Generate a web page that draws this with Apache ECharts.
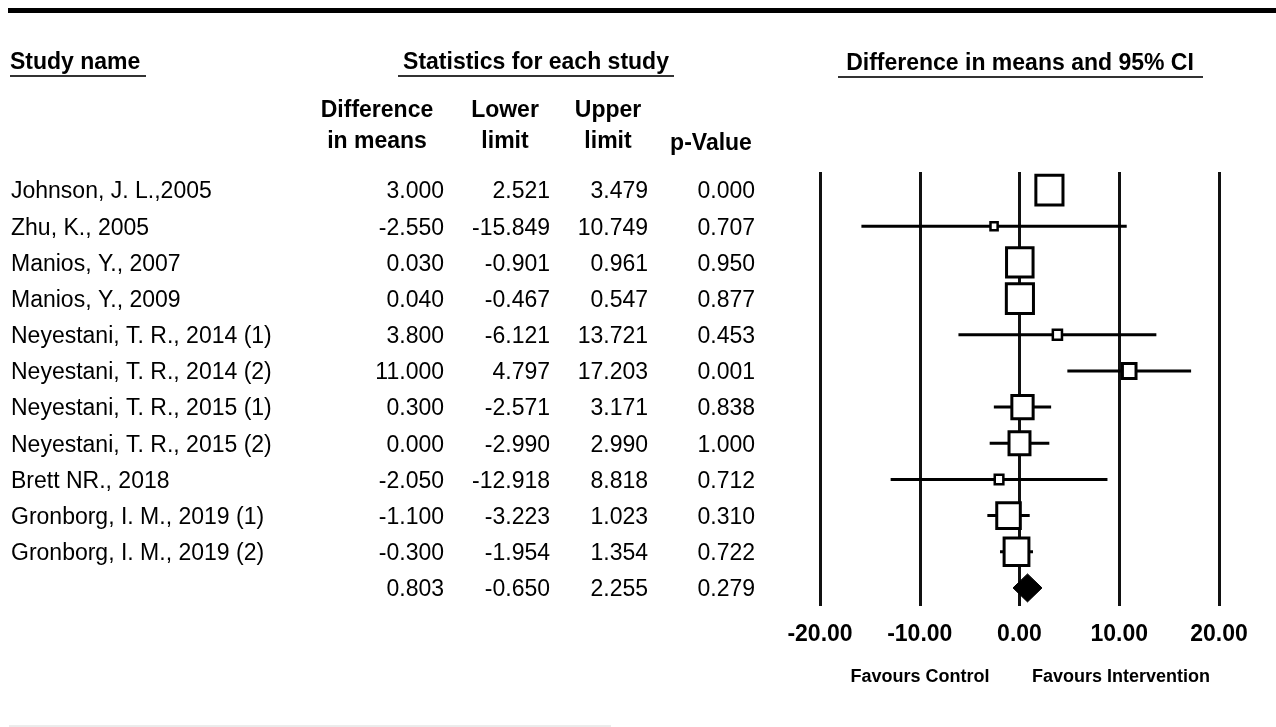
<!DOCTYPE html>
<html>
<head>
<meta charset="utf-8">
<script src="https://cdn.jsdelivr.net/npm/echarts@6/dist/echarts.min.js"></script>
<style>
html,body{margin:0;padding:0;background:#fff;}
#chart{width:1276px;height:727px;}
</style>
</head>
<body>
<div id="chart"></div>
<script>
// ---------------- data ----------------
const studies = [
  'Johnson, J. L.,2005',
  'Zhu, K., 2005',
  'Manios, Y., 2007',
  'Manios, Y., 2009',
  'Neyestani, T. R., 2014 (1)',
  'Neyestani, T. R., 2014 (2)',
  'Neyestani, T. R., 2015 (1)',
  'Neyestani, T. R., 2015 (2)',
  'Brett NR., 2018',
  'Gronborg, I. M., 2019 (1)',
  'Gronborg, I. M., 2019 (2)'
];
const diffMeans  = [3.000, -2.550, 0.030, 0.040, 3.800, 11.000, 0.300, 0.000, -2.050, -1.100, -0.300];
const lowerLimit = [2.521, -15.849, -0.901, -0.467, -6.121, 4.797, -2.571, -2.990, -12.918, -3.223, -1.954];
const upperLimit = [3.479, 10.749, 0.961, 0.547, 13.721, 17.203, 3.171, 2.990, 8.818, 1.023, 1.354];
const pValues    = [0.000, 0.707, 0.950, 0.877, 0.453, 0.001, 0.838, 1.000, 0.712, 0.310, 0.722];
// relative weights (%)
const relWeight  = [15.9, 1.1, 15.2, 15.9, 1.8, 4.0, 9.8, 9.5, 1.6, 12.0, 13.3];
// pooled (summary) row
const summaryDiff = [0.803];
const summaryLower = [-0.650];
const summaryUpper = [2.255];
const summaryP = [0.279];
// axis
const xTicks = [-20, -10, 0, 10, 20];
const columnHeaders = [
  ['Difference', 'in means'],
  ['Lower', 'limit'],
  ['Upper', 'limit'],
  ['', 'p-Value']
];

// ---------------- layout ----------------
const FONT = '"Liberation Sans", Arial, Helvetica, sans-serif';
const nRows = studies.length + 1;
const colRight = [444, 550, 648, 755];
const colCenter = [377, 505, 608, 711];
const nameX = 11;

const tableData = [];
for (let i = 0; i < studies.length; i++) {
  tableData.push([i, studies[i], diffMeans[i], lowerLimit[i], upperLimit[i], pValues[i]]);
}
tableData.push([studies.length, '', summaryDiff[0], summaryLower[0], summaryUpper[0], summaryP[0]]);

const forestData = studies.map((s, i) => [i, diffMeans[i], lowerLimit[i], upperLimit[i], relWeight[i]]);
const summaryData = [[studies.length, summaryDiff[0], summaryLower[0], summaryUpper[0]]];

const chart = echarts.init(document.getElementById('chart'), null, {renderer: 'canvas'});

function txt(x, y, text, align, bold, size) {
  return {
    type: 'text', silent: true,
    style: {
      x: x, y: y, text: text,
      font: (bold ? 'bold ' : '') + (size || 23) + 'px ' + FONT,
      fill: '#000',
      align: align, verticalAlign: 'middle',
      textAlign: align, textVerticalAlign: 'middle'
    }
  };
}

const graphics = [
  {type: 'rect', silent: true, shape: {x: 8, y: 8, width: 1268, height: 5}, style: {fill: '#000'}},
  {type: 'line', silent: true, shape: {x1: 9, y1: 726, x2: 611, y2: 726}, style: {stroke: '#d8d8d8', lineWidth: 1}},
  txt(10, 63, 'Study name', 'left', true),
  txt(536, 63, 'Statistics for each study', 'center', true),
  txt(1020, 64, 'Difference in means and 95% CI', 'center', true),
  {type: 'line', silent: true, shape: {x1: 10, y1: 76, x2: 146, y2: 76}, style: {stroke: '#333', lineWidth: 2}},
  {type: 'line', silent: true, shape: {x1: 398, y1: 76, x2: 674, y2: 76}, style: {stroke: '#333', lineWidth: 2}},
  {type: 'line', silent: true, shape: {x1: 838, y1: 77, x2: 1203, y2: 77}, style: {stroke: '#333', lineWidth: 2}},
  txt(920, 677, 'Favours Control', 'center', true, 18),
  txt(1121, 677, 'Favours Intervention', 'center', true, 18)
];
columnHeaders.forEach((h, k) => {
  if (h[0]) graphics.push(txt(colCenter[k], 111, h[0], 'center', true));
  graphics.push(txt(colCenter[k], 142 + (k === 3 ? 2 : 0), h[1], 'center', true));
});

const option = {
  animation: false,
  backgroundColor: '#fff',
  grid: [
    {left: 0, right: 0, top: 172, bottom: 121},
    {left: 820, right: 57, top: 172, bottom: 121}
  ],
  xAxis: [
    {gridIndex: 0, type: 'value', min: 0, max: 1276, show: false},
    {
      gridIndex: 1, type: 'value', min: xTicks[0], max: xTicks[xTicks.length - 1], interval: 10,
      axisLine: {show: false}, axisTick: {show: false},
      splitLine: {show: true, showMinLine: true, showMaxLine: true, lineStyle: {color: '#111', width: 3}},
      axisLabel: {
        margin: 17, color: '#000', fontSize: 23, fontWeight: 'bold', fontFamily: FONT,
        formatter: v => v.toFixed(2), showMinLabel: true, showMaxLabel: true
      }
    }
  ],
  yAxis: [
    {gridIndex: 0, type: 'value', min: -0.5, max: nRows - 0.5, inverse: true, show: false},
    {gridIndex: 1, type: 'value', min: -0.5, max: nRows - 0.5, inverse: true, show: false}
  ],
  graphic: graphics,
  series: [
    {
      type: 'custom', xAxisIndex: 0, yAxisIndex: 0, silent: true,
      data: tableData,
      encode: {x: -1, y: 0},
      renderItem: function (params, api) {
        const row = tableData[params.dataIndex];
        const y = api.coord([0, row[0]])[1] + 2;
        const children = [];
        if (row[1]) children.push(txt(nameX, y, row[1], 'left', false));
        for (let k = 0; k < 4; k++) {
          children.push(txt(colRight[k], y, row[k + 2].toFixed(3), 'right', false));
        }
        return {type: 'group', children: children};
      }
    },
    {
      type: 'custom', xAxisIndex: 1, yAxisIndex: 1, silent: true,
      data: forestData,
      encode: {x: [1, 2, 3], y: 0},
      renderItem: function (params, api) {
        const i = api.value(0);
        const c = api.coord([api.value(1), i]);
        const lo = api.coord([api.value(2), i]);
        const hi = api.coord([api.value(3), i]);
        const s = 6.8 * Math.sqrt(api.value(4));
        const h = s * 1.1;
        const lw = s < 10 ? 2.5 : 3;
        return {
          type: 'group',
          children: [
            {type: 'line', shape: {x1: lo[0], y1: lo[1], x2: hi[0], y2: hi[1]}, style: {stroke: '#000', lineWidth: 3}},
            {type: 'rect', shape: {x: c[0] - s / 2, y: c[1] - h / 2, width: s, height: h},
             style: {fill: '#fff', stroke: '#000', lineWidth: lw}}
          ]
        };
      }
    },
    {
      type: 'custom', xAxisIndex: 1, yAxisIndex: 1, silent: true,
      data: summaryData,
      encode: {x: [1, 2, 3], y: 0},
      renderItem: function (params, api) {
        const i = api.value(0);
        const c = api.coord([api.value(1), i]);
        const lo = api.coord([api.value(2), i]);
        const hi = api.coord([api.value(3), i]);
        const hh = 14;
        return {
          type: 'polygon',
          shape: {points: [[lo[0], c[1]], [c[0], c[1] - hh], [hi[0], c[1]], [c[0], c[1] + hh]]},
          style: {fill: '#000', stroke: '#000', lineWidth: 1}
        };
      }
    }
  ]
};
chart.setOption(option);
</script>
</body>
</html>
